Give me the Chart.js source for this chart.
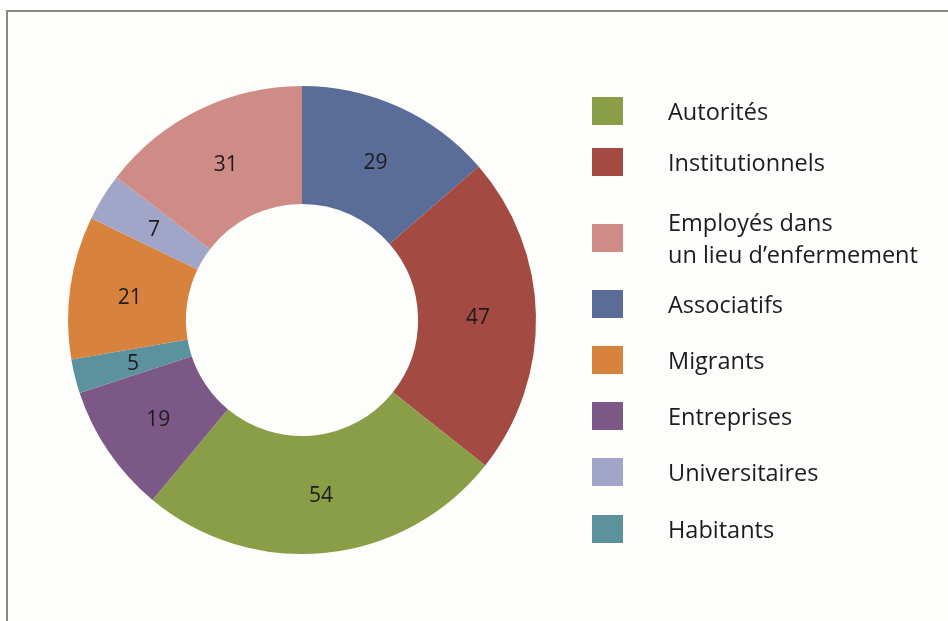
<!DOCTYPE html>
<html>
<head>
<meta charset="utf-8">
<script src="https://cdn.jsdelivr.net/npm/chart.js@4.4.0/dist/chart.umd.min.js"></script>
<style>
  html, body { margin: 0; padding: 0; background: #ffffff; }
  #frame {
    position: absolute; left: 6px; top: 10px; width: 960px; height: 640px;
    border-left: 2px solid #8c8781; border-top: 2px solid #8c8781;
    background: #fdfdfb;
  }
  #wrap { position: absolute; left: 0; top: 0; width: 948px; height: 621px; }
</style>
</head>
<body>
<div id="frame"></div>
<div id="wrap"><canvas id="donut"></canvas></div>
<script>
// ------------------ DATA ------------------
// slices, clockwise from 12 o'clock
const categories = ['Associatifs', 'Institutionnels', 'Autorités', 'Entreprises', 'Habitants', 'Migrants', 'Universitaires', 'Employés dans un lieu d\u2019enfermement'];
const values = [29, 47, 54, 19, 5, 21, 7, 31];
const colors = ['#5a6d98', '#a34a42', '#8a9e48', '#7b5886', '#5b929e', '#d7833e', '#a1a6c8', '#cf8b85'];

// legend order as printed on the right
const legendOrder = ['Autorités', 'Institutionnels', 'Employés dans un lieu d\u2019enfermement', 'Associatifs', 'Migrants', 'Entreprises', 'Universitaires', 'Habitants'];
const legendLines = {
    'Employés dans un lieu d\u2019enfermement': ['Employés dans', 'un lieu d\u2019enfermement']
};
const legendRowsY = [111, 162, 238, 304, 360, 416, 472, 529];

// ------------------ PLUGINS ------------------
const valueLabels = {
    id: 'valueLabels',
    afterDatasetsDraw(chart) {
        const ctx = chart.ctx;
        const meta = chart.getDatasetMeta(0);
        ctx.save();
        ctx.font = '21px "Open Sans", sans-serif';
        ctx.fillStyle = '#1e1b1c';
        ctx.textAlign = 'center';
        ctx.textBaseline = 'middle';
        meta.data.forEach((arc, i) => {
            const p = arc.tooltipPosition();
            ctx.fillText(String(values[i]), p.x + 1, p.y + 2);
        });
        ctx.restore();
    }
};

const sideLegend = {
    id: 'sideLegend',
    afterDraw(chart) {
        const ctx = chart.ctx;
        ctx.save();
        ctx.font = '23.5px "Open Sans", sans-serif';
        ctx.textBaseline = 'middle';
        ctx.textAlign = 'left';
        legendOrder.forEach((name, k) => {
            const idx = categories.indexOf(name);
            const y = legendRowsY[k];
            ctx.fillStyle = colors[idx];
            ctx.fillRect(592, y - 14, 31, 28);
            ctx.fillStyle = '#1e1b1c';
            const lines = legendLines[name] || [name];
            const lh = 32;
            const y0 = y - (lines.length - 1) * lh / 2;
            lines.forEach((t, j) => ctx.fillText(t, 668, y0 + j * lh + 2));
        });
        ctx.restore();
    }
};

// ------------------ CHART ------------------
const data = {
    labels: categories,
    datasets: [{
        data: values,
        backgroundColor: colors,
        borderWidth: 0
    }]
};

const config = {
    type: 'doughnut',
    data,
    options: {
        responsive: true,
        maintainAspectRatio: false,
        animation: false,
        cutout: '49.6%',
        layout: { padding: { left: 68, right: 412, top: 86, bottom: 67 } },
        plugins: {
            legend: { display: false },
            tooltip: { enabled: false }
        }
    },
    plugins: [valueLabels, sideLegend]
};

const donut = new Chart(document.getElementById('donut').getContext('2d'), config);
</script>
</body>
</html>
